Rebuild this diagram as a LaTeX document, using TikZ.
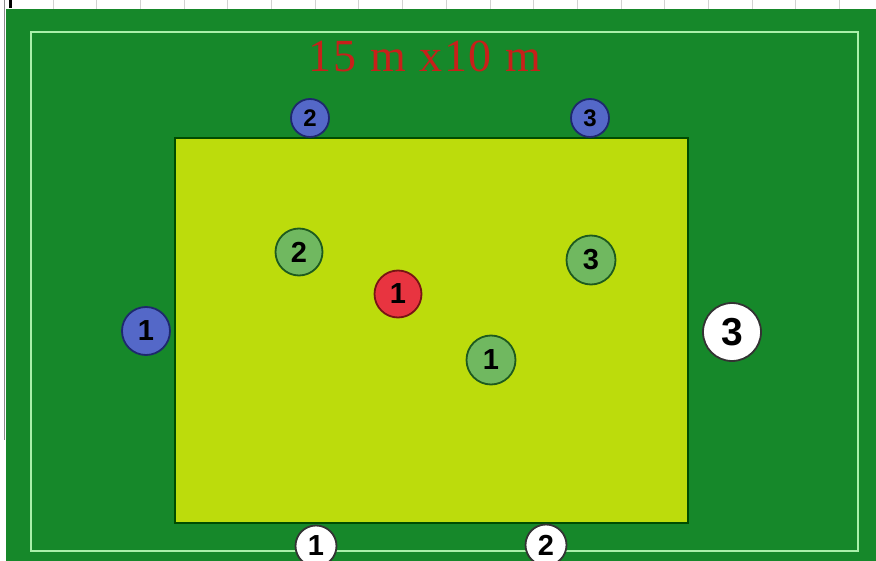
\documentclass[tikz,border=0pt]{standalone}
\usepackage{fontspec}
\setmainfont{Liberation Serif}
\newfontfamily\numfont{Liberation Sans}
\newfontfamily\titlefont[LetterSpace=4]{Liberation Serif}
\definecolor{field}{RGB}{22,136,42}
\definecolor{pitch}{RGB}{188,220,12}
\definecolor{lineclr}{RGB}{170,240,170}
\definecolor{bluefill}{RGB}{84,104,200}
\definecolor{blueedge}{RGB}{30,40,110}
\definecolor{greenfill}{RGB}{112,184,96}
\definecolor{greenedge}{RGB}{30,90,30}
\definecolor{redfill}{RGB}{232,52,64}
\definecolor{rededge}{RGB}{120,20,20}
\definecolor{titlered}{RGB}{200,32,26}
\tikzset{
  x=1pt, y=-1pt,
  player/.style={circle, inner sep=0pt, line width=1.8pt, text=black,
    font=\numfont\bfseries},
  bluep/.style={player, fill=bluefill, draw=blueedge, minimum size=38pt, font=\numfont\bfseries\fontsize{24}{24}\selectfont},
  greenp/.style={player, fill=greenfill, draw=greenedge, minimum size=47pt, font=\numfont\bfseries\fontsize{29}{29}\selectfont},
  redp/.style={player, fill=redfill, draw=rededge, minimum size=47pt, font=\numfont\bfseries\fontsize{29}{29}\selectfont},
  whitep/.style={player, fill=white, draw=black!80, minimum size=41pt, font=\numfont\bfseries\fontsize{29}{29}\selectfont},
}
\begin{document}
\begin{tikzpicture}
\useasboundingbox (0,0) rectangle (876,561);
% top strip
\fill[white] (0,0) rectangle (876,561);
\foreach \k in {0,...,18} {
  \draw[black!18, line width=1pt] (53+43.7*\k,0) -- (53+43.7*\k,9);
}
\fill[black] (9,0) rectangle (12,8);
\draw[black!45, line width=1pt] (4.5,0) -- (4.5,440);
% field
\fill[field] (6,9) rectangle (876,561);
\draw[lineclr, line width=2.2pt] (31,32) rectangle (858,551);
% pitch
\fill[pitch, draw=black!70!green, line width=1.4pt] (175,138) rectangle (688,523);
% title
\node (title) at (425,56) {\textcolor{titlered}{\titlefont\fontsize{46}{46}\selectfont 15 m x10 m}};
% players
\node[bluep] (b2) at (310,118) {2};
\node[bluep] (b3) at (590,118) {3};
\node[bluep, minimum size=48pt, font=\numfont\bfseries\fontsize{29}{29}\selectfont] (b1) at (146,331) {1};
\node[greenp] (g2) at (299,252) {2};
\node[redp] (r1) at (398,294) {1};
\node[greenp, minimum size=49pt] (g1) at (491,360) {1};
\node[greenp, minimum size=49pt] (g3) at (591,260) {3};
\node[whitep, minimum size=58pt, font=\numfont\bfseries\fontsize{39}{39}\selectfont] (w3) at (732,332) {3};
\node[whitep] (w1) at (316,546) {1};
\node[whitep] (w2) at (546,545) {2};
\end{tikzpicture}
\end{document}
